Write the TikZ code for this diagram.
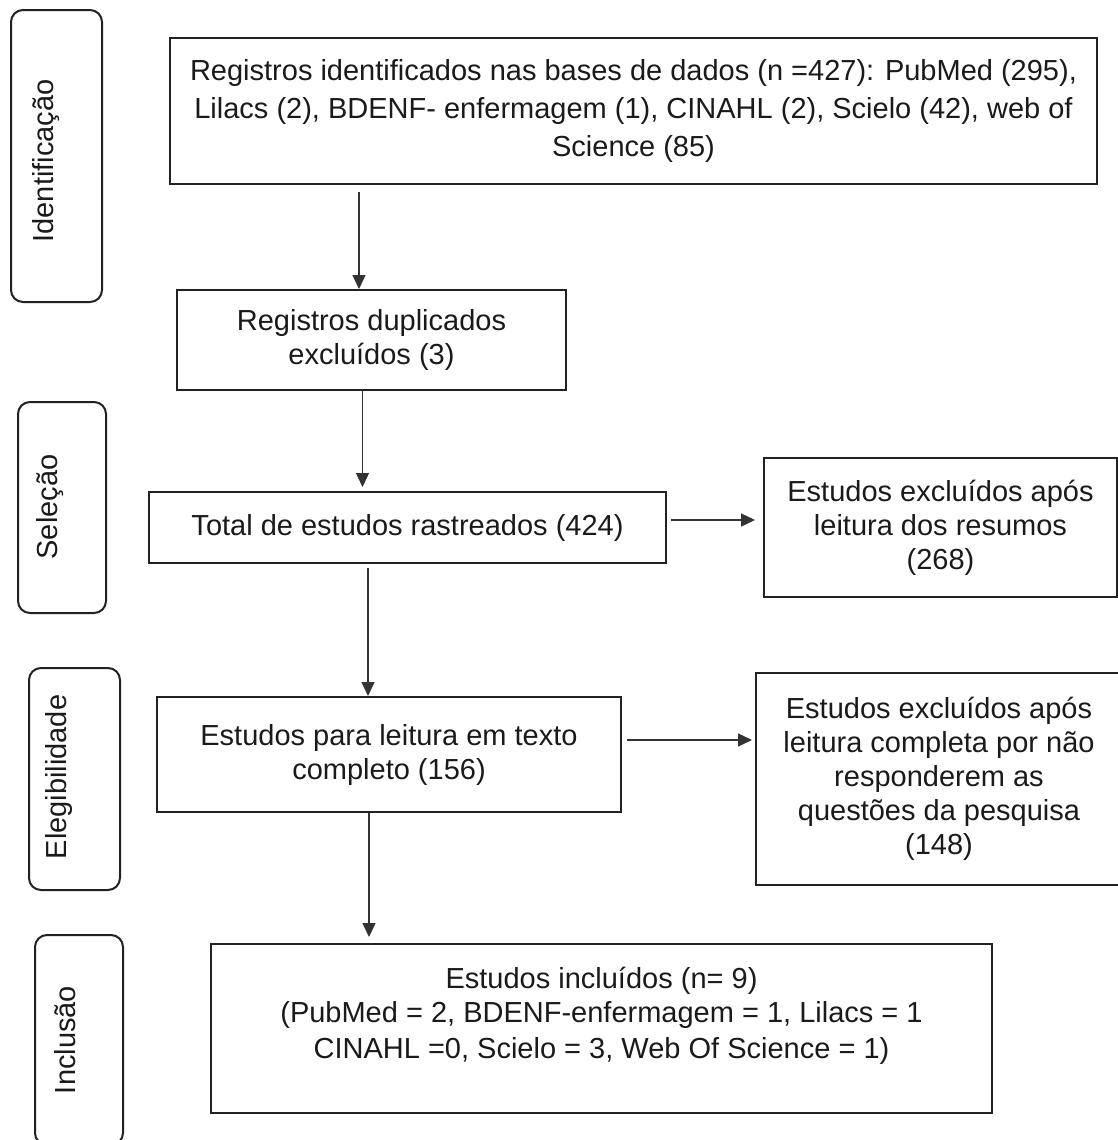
\documentclass[tikz,border=0pt]{standalone}
\usepackage{fontspec}
\setmainfont{Liberation Sans}
\usetikzlibrary{arrows.meta}
\definecolor{LinhaCaixa}{HTML}{222222}
\definecolor{LinhaSeta}{HTML}{333333}
\definecolor{TextoFluxo}{HTML}{1A1A1A}

\begin{document}
\begin{tikzpicture}[x=0.5pt,y=-0.5pt,
  every node/.style={font=\fontsize{14.5}{17}\selectfont, text=TextoFluxo},
  caixa/.style={draw=LinhaCaixa, line width=1pt, align=center, inner sep=0pt},
  etapa/.style={draw=LinhaCaixa, line width=1pt, rounded corners=6pt, inner sep=0pt},
  rotulo/.style={rotate=90, inner sep=0pt},
  seta/.style={draw=LinhaSeta, line width=0.7pt, -{Triangle[length=7pt,width=6.5pt]}}]
  \useasboundingbox (0,0) rectangle (1118,1140);
  % etapas (caixas arredondadas)
  \node[etapa, minimum width=45.5pt, minimum height=146pt] (ident) at (56.5,156) {};
  \node[rotulo] at (46,161) {Identificação};
  \node[etapa, minimum width=44pt, minimum height=105.5pt] (selec) at (62,507.5) {};
  \node[rotulo] at (50,507) {Seleção};
  \node[etapa, minimum width=45.5pt, minimum height=111pt] (eleg) at (74.5,779) {};
  \node[rotulo] at (59,777) {Elegibilidade};
  \node[etapa, minimum width=44pt, minimum height=105pt] (incl) at (79,1040) {};
  \node[rotulo] at (65,1040) {Inclusão};
  % fluxo principal
  \node[caixa, minimum width=463.5pt, minimum height=73pt] (reg) at (633.5,111)
    {Registros identificados nas bases de dados (n =427): PubMed (295),\\[2pt]
     Lilacs (2), BDENF- enfermagem (1), CINAHL (2), Scielo (42), web of\\[2pt]
     Science (85)};
  \node[caixa, minimum width=194.5pt, minimum height=50pt] (dup) at (371.5,340)
    {Registros duplicados\\excluídos (3)};
  \node[caixa, minimum width=258.5pt, minimum height=35.5pt] (tot) at (407.5,527.5)
    {Total de estudos rastreados (424)};
  \node[caixa, minimum width=232pt, minimum height=57.5pt] (texto) at (389,754.5)
    {Estudos para leitura em texto\\completo (156)};
  \node[caixa, minimum width=390.5pt, minimum height=84.5pt] (inc) at (601.5,1028.5)
    {Estudos incluídos (n= 9)\\
     (PubMed = 2, BDENF-enfermagem = 1, Lilacs = 1\\[1pt]
     CINAHL =0, Scielo = 3, Web Of Science = 1)\\[-1.5pt]\mbox{}};
  % exclusões
  \node[caixa, minimum width=176.5pt, minimum height=69.5pt] (exres) at (940.5,527.5)
    {Estudos excluídos após\\leitura dos resumos\\(268)};
  \node[caixa, minimum width=183pt, minimum height=106pt] (excomp) at (939,779)
    {Estudos excluídos após\\leitura completa por não\\responderem as\\questões da pesquisa\\(148)};
  % setas
  \draw[seta, shorten <=3.5pt] (reg.south -| 359,0) -- (dup.north -| 359,0);
  \draw[seta, shorten >=2pt] (dup.south -| 362.5,0) -- (tot.north -| 362.5,0);
  \draw[seta, shorten <=2pt, shorten >=4pt] (tot.east |- 0,520) -- (exres.west |- 0,520);
  \draw[seta, shorten <=2pt] (tot.south -| 368,0) -- (texto.north -| 368,0);
  \draw[seta, shorten <=2.5pt, shorten >=1.5pt] (texto.east |- 0,740) -- (excomp.west |- 0,740);
  \draw[seta, shorten >=3pt] (texto.south -| 369,0) -- (inc.north -| 369,0);
\end{tikzpicture}
\end{document}
